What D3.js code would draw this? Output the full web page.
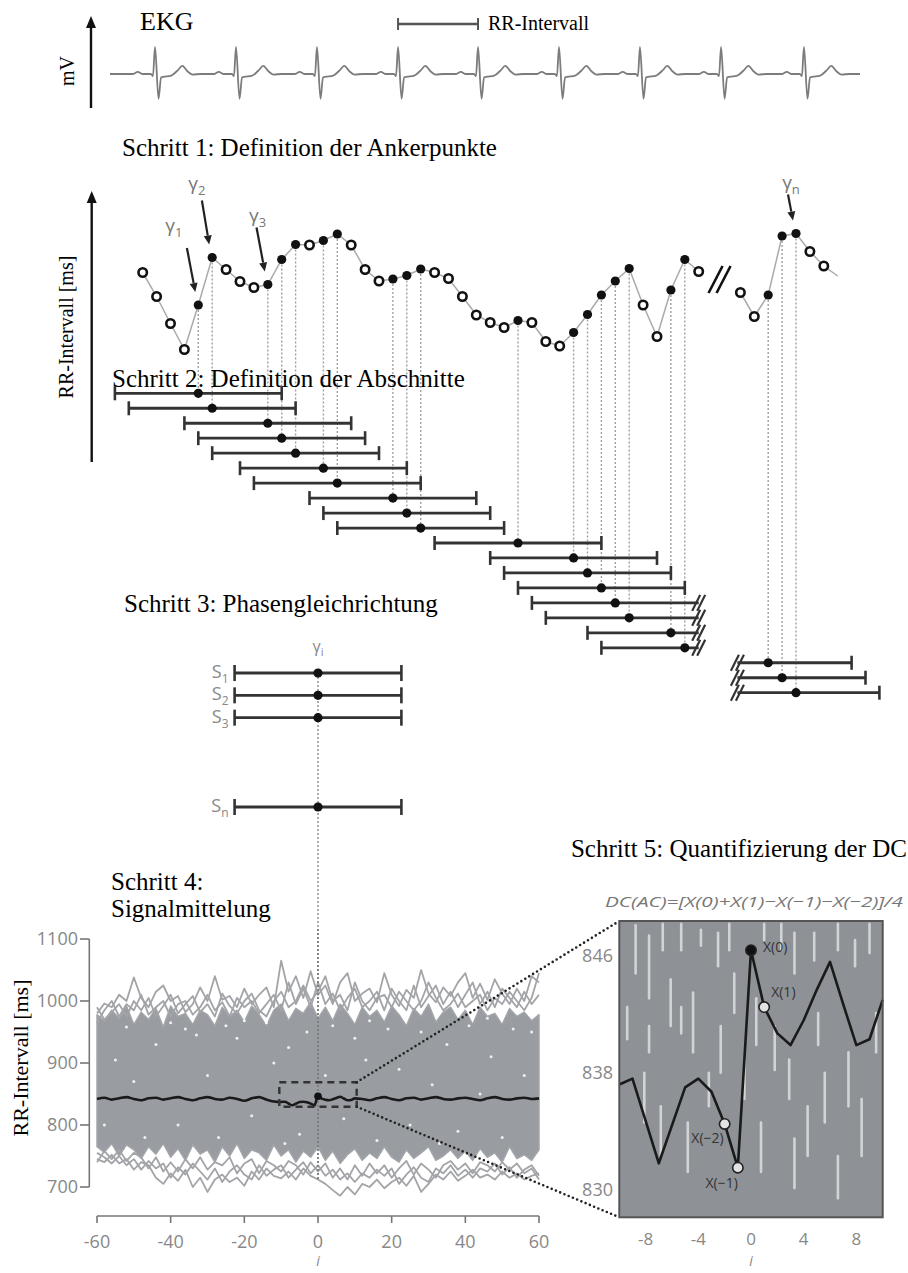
<!DOCTYPE html>
<html>
<head>
<meta charset="utf-8">
<script src="https://cdn.jsdelivr.net/npm/d3@7"></script>
<style>
  body { margin: 0; background: #fff; }
  svg { display: block; }
</style>
</head>
<body>
<svg id="fig" width="908" height="1273"></svg>
<script>
// ---------------- data ----------------

// EKG: R-peak times (s) and one beat template [seconds from R, mV]
const ekgBeatTimes = [0.444, 1.243, 2.042, 2.842, 3.631, 4.430, 5.229, 6.029, 6.847];
const ekgBeatShape = [
  [-0.22, 0], [-0.17, 0.08], [-0.12, 0], [-0.04, 0], [-0.02, -0.08], [0, 1.0],
  [0.035, -0.92], [0.06, -0.12], [0.09, -0.1], [0.16, -0.06], [0.22, 0.12],
  [0.27, 0.3], [0.32, 0.1], [0.37, -0.02], [0.45, 0]
];
const rrBracketBeats = [3, 4];

// Step 1: RR intervals (ms) of consecutive beats, two stretches around a break
const rrGroup1 = [875, 827, 773, 721, 810, 905, 881, 857, 845, 851, 901, 931, 930, 939, 952,
  930, 881, 858, 862, 869, 882, 875, 863, 827, 790, 775, 765, 779, 775, 737, 728, 755, 791,
  830, 858, 883, 810, 747, 840, 901, 877];
const group2Start = 43;
const rrGroup2 = [835, 787, 830, 948, 953, 917, 888];
const rrTail = 868;
const gammaMarks = [
  { beat: 4, sub: "1" }, { beat: 5, sub: "2" }, { beat: 9, sub: "3" }, { beat: 47, sub: "n" }
];
const segmentHalfWidth = 6; // beats on each side of an anchor

// Step 3: aligned segments
const alignedRows = ["1", "2", "3", "", "", "", "n"];

// Step 4: averaging plot
const iTicks = [-60, -40, -20, 0, 20, 40, 60];
const rrTicks = [700, 800, 900, 1000, 1100];
const iStep2 = d3.range(-60, 61, 2);
const bandHi = [978, 968, 985, 972, 992, 962, 982, 970, 988, 958, 992, 975, 980, 962, 985, 978,
  960, 990, 975, 985, 966, 992, 978, 960, 985, 995, 968, 988, 980, 998, 972, 990, 968, 995, 980,
  962, 990, 975, 985, 966, 992, 978, 960, 988, 975, 995, 966, 982, 990, 970, 985, 962, 990, 975,
  980, 962, 988, 975, 982, 968, 978];
const bandLo = [765, 756, 770, 750, 768, 760, 746, 765, 753, 770, 748, 762, 743, 768, 753, 760,
  740, 765, 750, 770, 746, 760, 755, 743, 768, 750, 760, 740, 758, 748, 765, 743, 758, 738, 752,
  762, 743, 755, 746, 765, 748, 740, 760, 746, 755, 765, 743, 750, 760, 746, 758, 743, 762, 748,
  755, 740, 765, 746, 752, 743, 760];
const traceUp1 = [980, 996, 990, 1010, 1000, 1038, 1005, 990, 1015, 1025, 1000, 1008, 982, 995,
  1022, 1000, 1040, 1002, 1008, 990, 1020, 995, 1010, 1022, 990, 1065, 1015, 1040, 1005, 1048,
  1010, 1025, 995, 1030, 1045, 1000, 1012, 1020, 998, 1045, 1010, 992, 1018, 1005, 1050, 1012,
  998, 1022, 1008, 1030, 1045, 1005, 1028, 1002, 1035, 1012, 995, 1020, 1000, 1040, 1030];
const traceUp2 = [965, 985, 1000, 975, 995, 985, 1010, 978, 990, 1000, 975, 995, 1000, 978, 990,
  1010, 985, 998, 975, 1005, 990, 1000, 980, 995, 1010, 985, 1030, 995, 1020, 990, 1030, 995,
  1012, 985, 1005, 1020, 990, 1000, 1015, 985, 1020, 1000, 985, 1025, 990, 1008, 1025, 995, 1015,
  990, 1010, 1030, 995, 1015, 990, 1020, 1005, 990, 1015, 995, 1010];
const traceUp3 = [990, 970, 982, 995, 975, 1000, 985, 1005, 975, 992, 1010, 980, 995, 1008, 982,
  995, 975, 1012, 992, 980, 1000, 1012, 985, 975, 1000, 1015, 990, 1000, 1025, 1000, 1015, 1040,
  1000, 1010, 985, 1030, 1000, 985, 1005, 1010, 990, 1015, 1000, 985, 1000, 1030, 1005, 985, 995,
  1012, 990, 1000, 1010, 985, 1005, 995, 1015, 1000, 985, 1005, 1045];
const traceLo1 = [745, 740, 752, 738, 745, 728, 740, 735, 715, 705, 722, 710, 728, 700, 715, 692,
  712, 720, 708, 715, 702, 725, 712, 730, 718, 714, 725, 712, 730, 718, 712, 705, 695, 686, 700,
  688, 705, 700, 712, 698, 708, 715, 702, 718, 692, 705, 720, 712, 725, 710, 718, 728, 715, 720,
  712, 725, 715, 722, 712, 718, 722];
const traceLo2 = [755, 748, 738, 750, 735, 745, 728, 742, 730, 738, 715, 732, 720, 738, 725, 712,
  730, 708, 725, 735, 720, 712, 735, 718, 728, 735, 715, 728, 740, 722, 735, 718, 728, 712, 722,
  708, 722, 715, 728, 718, 730, 705, 720, 732, 715, 708, 730, 722, 735, 718, 728, 715, 730, 725,
  738, 720, 732, 715, 728, 735, 718];
const traceLo3 = [740, 758, 745, 760, 742, 755, 748, 730, 748, 725, 740, 725, 745, 730, 748, 728,
  740, 735, 748, 722, 738, 745, 722, 742, 735, 725, 742, 735, 720, 740, 725, 738, 715, 730, 712,
  735, 718, 738, 722, 735, 715, 730, 742, 720, 738, 728, 715, 735, 742, 728, 738, 722, 740, 735,
  725, 740, 728, 738, 722, 730, 712];
// gaps between the traces inside the dense band [i, rr]
const bandGaps = [[-55, 905], [-50, 870], [-44, 930], [-38, 800], [-36, 955], [-30, 880],
  [-27, 780], [-22, 940], [-18, 815], [-14, 965], [-12, 900], [-8, 925], [-5, 785], [-3, 950],
  [2, 880], [4, 960], [7, 810], [10, 940], [13, 905], [16, 775], [19, 955], [22, 890], [25, 800],
  [28, 950], [31, 865], [35, 930], [38, 790], [41, 960], [44, 850], [47, 910], [50, 780],
  [53, 955], [56, 880], [-58, 800], [-47, 780], [-25, 960], [-9, 770], [33, 770], [-40, 965],
  [-33, 945], [14, 968], [46, 972], [-52, 958], [58, 950], [-20, 968], [24, 972]];
// averaged signal outside the zoomed window (i = -60..-12 and 12..60, step 2)
const iMeanLeft = d3.range(-60, -11, 2);
const meanLeft = [842, 844, 841, 843, 845, 842, 840, 843, 844, 841, 843, 845, 842, 840, 843, 845,
  842, 841, 844, 842, 839, 843, 845, 841, 838];
const iMeanRight = d3.range(12, 61, 2);
const meanRight = [842, 840, 843, 845, 842, 840, 843, 844, 841, 843, 845, 842, 841, 843, 844, 842,
  840, 843, 845, 842, 841, 843, 844, 842, 843];
const zoomWindow = { i: [-10.5, 10.5], rr: [829.5, 869] };

// Step 5: averaged signal around the anchor (i = -10..10)
const iZoom = d3.range(-10, 11);
const meanZoom = [837.2, 837.6, 834.7, 831.8, 834.4, 837.0, 837.6, 836.7, 834.5, 831.5, 846.4,
  842.5, 840.7, 839.9, 841.6, 843.7, 845.6, 842.7, 839.9, 840.3, 843.0];
const zoomTicksI = [-8, -4, 0, 4, 8];
const zoomTicksRR = [830, 838, 846];
const dcPoints = [
  { i: 0, label: "X(0)" }, { i: 1, label: "X(1)" }, { i: -1, label: "X(−1)" }, { i: -2, label: "X(−2)" }
];
// traces crossing the zoomed window [i, rrTop, rrBottom]
const zoomStreaks = [[-8.76, 848.1, 844.8], [-7.74, 847.4, 843.1], [-7.74, 841.2, 839.4],
  [-6.7, 848.2, 846.4], [-6.1, 844.4, 841.2], [-5.3, 848.2, 846.4], [-5.3, 842.5, 840.7],
  [-4.4, 843.5, 839.4], [-3.8, 847.8, 846.7], [-3.2, 838.0, 835.7], [-2.5, 847.6, 845.3],
  [-2.3, 841.2, 838.0], [-1.65, 848.2, 846.4], [-1.27, 844.8, 842.1], [1.0, 848.2, 847.1],
  [1.8, 841.2, 838.2], [2.3, 848.2, 846.4], [2.9, 838.9, 836.2], [3.3, 847.6, 844.8],
  [4.3, 835.7, 832.3], [4.8, 847.6, 845.7], [5.6, 838.0, 834.6], [6.6, 848.2, 846.4],
  [7.4, 839.4, 835.7], [7.9, 847.1, 845.3], [8.4, 836.2, 832.3], [9.0, 848.2, 846.2],
  [9.5, 842.1, 839.4], [-6.85, 835.7, 832.3], [-4.8, 834.6, 831.2], [0.76, 834.6, 831.2],
  [3.3, 833.5, 830.1], [-8.1, 838.0, 834.6], [6.6, 832.3, 829.4], [-9.4, 842.5, 840.3],
  [0.4, 843.1, 839.9], [5.1, 842.1, 839.9], [-0.5, 838.9, 836.2]];

// ---------------- drawing ----------------
const svg = d3.select("#fig");
const serif = "'Liberation Serif','Times New Roman',serif";
const sans = "'Open Sans','Noto Sans',sans-serif";

function arrowUp(g, x, yBottom, yTip) {
  g.append("line").attr("x1", x).attr("x2", x).attr("y1", yBottom).attr("y2", yTip + 8)
    .attr("stroke", "#111").attr("stroke-width", 2.4);
  g.append("path").attr("d", `M${x},${yTip} L${x - 5},${yTip + 12} L${x + 5},${yTip + 12} Z`)
    .attr("fill", "#111");
}
function breakMark(g, x, y) {
  [-2.5, 2.5].forEach(o => g.append("line")
    .attr("x1", x + o - 4).attr("y1", y + 8).attr("x2", x + o + 4).attr("y2", y - 8)
    .attr("stroke", "#333").attr("stroke-width", 2.2));
}

// ----- EKG -----
const ekg = svg.append("g");
const ekgT = d3.scaleLinear().domain([0, 7.4]).range([110, 860]);
const ekgV = d3.scaleLinear().domain([-1, 1]).range([101, 47]);
const ekgPts = [[0, 0]];
ekgBeatTimes.forEach(t0 => ekgBeatShape.forEach(([dt, v]) => ekgPts.push([t0 + dt, v])));
ekgPts.push([7.4, 0]);
ekg.append("path")
  .attr("d", d3.line().x(d => ekgT(d[0])).y(d => ekgV(d[1])).curve(d3.curveMonotoneX)(ekgPts))
  .attr("fill", "none").attr("stroke", "#7c7c7c").attr("stroke-width", 1.8);
arrowUp(ekg, 91, 108, 16);
ekg.append("text").attr("transform", "translate(74,71) rotate(-90)").attr("text-anchor", "middle")
  .attr("font-family", serif).attr("font-size", 20).text("mV");
ekg.append("text").attr("x", 140).attr("y", 30).attr("font-family", serif).attr("font-size", 26).text("EKG");
{
  const xa = ekgT(ekgBeatTimes[rrBracketBeats[0]]), xb = ekgT(ekgBeatTimes[rrBracketBeats[1]]);
  const yb = 24;
  ekg.append("line").attr("x1", xa).attr("x2", xb).attr("y1", yb).attr("y2", yb)
    .attr("stroke", "#555").attr("stroke-width", 2.5);
  [xa, xb].forEach(x => ekg.append("line").attr("x1", x).attr("x2", x).attr("y1", yb - 6).attr("y2", yb + 6)
    .attr("stroke", "#555").attr("stroke-width", 2));
  ekg.append("text").attr("x", xb + 10).attr("y", 30).attr("font-family", serif).attr("font-size", 20).text("RR-Intervall");
}

// ----- Step 1 -----
const s1 = svg.append("g");
const beatX = d3.scaleLinear().domain([0, 49]).range([142.7, 823.8]);
const rrY = d3.scaleLinear().domain([700, 1000]).range([360, 210]);
const g1 = rrGroup1.map((v, j) => ({ beat: j, rr: v }));
const g2 = rrGroup2.map((v, j) => ({ beat: group2Start + j, rr: v }));
[g1, g2].forEach(arr => arr.forEach((d, j) => { d.anchor = j > 0 && d.rr > arr[j - 1].rr; }));
const anchors = g1.concat(g2).filter(d => d.anchor);
const lastBeat1 = g1[g1.length - 1].beat;

svg.append("text").attr("x", 122).attr("y", 156).attr("font-family", serif).attr("font-size", 25)
  .text("Schritt 1: Definition der Ankerpunkte");
arrowUp(s1, 91.7, 462, 191);
s1.append("text").attr("transform", "translate(73,327) rotate(-90)").attr("text-anchor", "middle")
  .attr("font-family", serif).attr("font-size", 20).text("RR-Intervall [ms]");

const rowY = d3.scaleLinear().domain([0, 20]).range([393.3, 692.7]);

// dotted drop lines from each anchor to its segment
const drops = svg.append("g");
anchors.forEach((d, r) => {
  drops.append("line").attr("x1", beatX(d.beat)).attr("x2", beatX(d.beat))
    .attr("y1", rrY(d.rr) + 5).attr("y2", rowY(r))
    .attr("stroke", "#a0a0a0").attr("stroke-width", 1.4).attr("stroke-dasharray", "2,2");
});

const rrLine = d3.line().x(d => beatX(d.beat)).y(d => rrY(d.rr));
s1.append("path").attr("d", rrLine(g1)).attr("fill", "none").attr("stroke", "#aaa").attr("stroke-width", 1.5);
s1.append("path").attr("d", rrLine(g2.concat([{ beat: group2Start + rrGroup2.length, rr: rrTail }])))
  .attr("fill", "none").attr("stroke", "#aaa").attr("stroke-width", 1.5);
// break between the two stretches
{
  const bx = beatX((lastBeat1 + group2Start) / 2), by = rrY(860);
  [-4, 4].forEach(o => s1.append("line").attr("x1", bx + o - 7).attr("y1", by + 13)
    .attr("x2", bx + o + 7).attr("y2", by - 14).attr("stroke", "#111").attr("stroke-width", 2.6));
}
s1.selectAll("circle.pt").data(g1.concat(g2)).join("circle")
  .attr("cx", d => beatX(d.beat)).attr("cy", d => rrY(d.rr))
  .attr("r", d => d.anchor ? 4.6 : 4.2)
  .attr("fill", d => d.anchor ? "#111" : "#fff")
  .attr("stroke", "#111").attr("stroke-width", d => d.anchor ? 0 : 2.6);

// gamma labels and arrows
const gammaLayout = {
  "1": { dx: -8.4, dy: -44, lx: -13, ly: -16 },
  "2": { dx: -7.3, dy: -44, lx: -5, ly: -11 },
  "3": { dx: -8.3, dy: -44, lx: 1, ly: -6 },
  "n": { dx: -5, dy: -26, lx: 3, ly: -6 }
};
gammaMarks.forEach(m => {
  const p = g1.concat(g2).find(d => d.beat === m.beat);
  const L = gammaLayout[m.sub];
  const tx = beatX(p.beat) - 3, ty = rrY(p.rr) - 13;
  const sx = tx + L.dx, sy = ty + L.dy;
  const ang = Math.atan2(ty - sy, tx - sx);
  const hx = tx - 9 * Math.cos(ang), hy = ty - 9 * Math.sin(ang);
  s1.append("line").attr("x1", sx).attr("y1", sy).attr("x2", hx).attr("y2", hy)
    .attr("stroke", "#222").attr("stroke-width", 2.2);
  const px = -Math.sin(ang) * 4, py = Math.cos(ang) * 4;
  s1.append("path").attr("d", `M${tx},${ty} L${hx + px},${hy + py} L${hx - px},${hy - py} Z`).attr("fill", "#222");
  const t = s1.append("text").attr("x", sx + L.lx).attr("y", sy + L.ly).attr("text-anchor", "middle")
    .attr("font-family", sans).attr("font-size", 19).attr("fill", "#777").text("γ");
  t.append("tspan").attr("font-size", 13).attr("dy", 5).text(m.sub);
});

// ----- Step 2 -----
const s2 = svg.append("g");
svg.append("text").attr("x", 112).attr("y", 387).attr("font-family", serif).attr("font-size", 25)
  .text("Schritt 2: Definition der Abschnitte");
anchors.forEach((d, r) => {
  const y = rowY(r);
  let b0 = d.beat - segmentHalfWidth, b1 = d.beat + segmentHalfWidth;
  let x0 = beatX(b0), x1 = beatX(b1), brokeL = false, brokeR = false;
  if (d.beat <= lastBeat1 && b1 >= lastBeat1) { x1 = beatX(lastBeat1); brokeR = true; }
  if (d.beat >= group2Start && b0 < group2Start) { x0 = beatX(group2Start) - 3; brokeL = true; }
  s2.append("line").attr("x1", x0).attr("x2", x1).attr("y1", y).attr("y2", y)
    .attr("stroke", "#333").attr("stroke-width", 2.8);
  [[x0, brokeL], [x1, brokeR]].forEach(([x, br]) => {
    if (br) breakMark(s2, x, y);
    else s2.append("line").attr("x1", x).attr("x2", x).attr("y1", y - 7).attr("y2", y + 7)
      .attr("stroke", "#333").attr("stroke-width", 2.6);
  });
  s2.append("circle").attr("cx", beatX(d.beat)).attr("cy", y).attr("r", 4.6).attr("fill", "#111");
});

// ----- Step 4 axes/scales (shared centre with step 3) -----
const xI = d3.scaleLinear().domain([-60, 60]).range([97, 539]);
const yR = d3.scaleLinear().domain([700, 1100]).range([1187, 939]);
const cx0 = xI(0);
const halfPx = beatX(segmentHalfWidth) - beatX(0);

// ----- Step 3 -----
const s3 = svg.append("g");
svg.append("text").attr("x", 124).attr("y", 612).attr("font-family", serif).attr("font-size", 25)
  .text("Schritt 3: Phasengleichrichtung");
const alignY = d3.scalePoint().domain(d3.range(alignedRows.length)).range([673, 807]);
s3.append("line").attr("x1", cx0).attr("x2", cx0).attr("y1", alignY(0)).attr("y2", yR(712))
  .attr("stroke", "#888").attr("stroke-width", 1.4).attr("stroke-dasharray", "2,2");
const t3 = s3.append("text").attr("x", cx0).attr("y", 652).attr("text-anchor", "middle")
  .attr("font-family", sans).attr("font-size", 16).attr("fill", "#888").text("γ");
t3.append("tspan").attr("font-size", 11).attr("dy", 4).text("i");
alignedRows.forEach((lab, k) => {
  if (!lab) return;
  const y = alignY(k);
  s3.append("line").attr("x1", cx0 - halfPx).attr("x2", cx0 + halfPx).attr("y1", y).attr("y2", y)
    .attr("stroke", "#333").attr("stroke-width", 2.8);
  [cx0 - halfPx, cx0 + halfPx].forEach(x => s3.append("line").attr("x1", x).attr("x2", x)
    .attr("y1", y - 8).attr("y2", y + 8).attr("stroke", "#333").attr("stroke-width", 2.6));
  s3.append("circle").attr("cx", cx0).attr("cy", y).attr("r", 4.6).attr("fill", "#111");
  const t = s3.append("text").attr("x", cx0 - halfPx - 6).attr("y", y + 5).attr("text-anchor", "end")
    .attr("font-family", sans).attr("font-size", 18).attr("fill", "#888").text("S");
  t.append("tspan").attr("font-size", 12).attr("dy", 5).text(lab);
});

// ----- Step 4 -----
const s4 = svg.append("g");
svg.append("text").attr("x", 111).attr("y", 890).attr("font-family", serif).attr("font-size", 25).text("Schritt 4:");
svg.append("text").attr("x", 111).attr("y", 917).attr("font-family", serif).attr("font-size", 25).text("Signalmittelung");

const band = iStep2.map((i, k) => ({ i, hi: bandHi[k], lo: bandLo[k] }));
s4.append("path").attr("d", d3.area().x(d => xI(d.i)).y0(d => yR(d.lo)).y1(d => yR(d.hi))(band))
  .attr("fill", "#999ca1").attr("stroke", "#a2a5a9").attr("stroke-width", 1.5).attr("stroke-linejoin", "round");
const traceLine = d3.line().x((v, k) => xI(iStep2[k])).y(v => yR(v));
[traceUp1, traceUp2, traceUp3, traceLo1, traceLo2, traceLo3].forEach(tr =>
  s4.append("path").attr("d", traceLine(tr)).attr("fill", "none")
    .attr("stroke", "#a2a4a8").attr("stroke-width", 1.8).attr("stroke-linejoin", "round"));
s4.selectAll("circle.gap").data(bandGaps).join("circle")
  .attr("cx", d => xI(d[0])).attr("cy", d => yR(d[1])).attr("r", 1.5).attr("fill", "#fff").attr("opacity", 0.85);

// redraw the centre line over the band
s4.append("line").attr("x1", cx0).attr("x2", cx0).attr("y1", yR(1100) - 10).attr("y2", yR(712))
  .attr("stroke", "#6f6f6f").attr("stroke-width", 1.3).attr("stroke-dasharray", "2,2");

const meanPts = iMeanLeft.map((i, k) => [i, meanLeft[k]])
  .concat(iZoom.map((i, k) => [i, meanZoom[k]]))
  .concat(iMeanRight.map((i, k) => [i, meanRight[k]]));
s4.append("path").attr("d", d3.line().x(d => xI(d[0])).y(d => yR(d[1])).curve(d3.curveMonotoneX)(meanPts))
  .attr("fill", "none").attr("stroke", "#1a1a1a").attr("stroke-width", 2.6);
s4.append("circle").attr("cx", xI(0)).attr("cy", yR(meanZoom[iZoom.indexOf(0)])).attr("r", 3.8).attr("fill", "#111");

// zoom window
const wx0 = xI(zoomWindow.i[0]), wx1 = xI(zoomWindow.i[1]);
const wy0 = yR(zoomWindow.rr[1]), wy1 = yR(zoomWindow.rr[0]);
s4.append("rect").attr("x", wx0).attr("y", wy0).attr("width", wx1 - wx0).attr("height", wy1 - wy0)
  .attr("fill", "none").attr("stroke", "#333").attr("stroke-width", 2.4).attr("stroke-dasharray", "7,5");

// axes
s4.append("line").attr("x1", 89.3).attr("x2", 89.3).attr("y1", yR(1100)).attr("y2", yR(700))
  .attr("stroke", "#777").attr("stroke-width", 1.6);
rrTicks.forEach(v => {
  s4.append("line").attr("x1", 80).attr("x2", 89.3).attr("y1", yR(v)).attr("y2", yR(v))
    .attr("stroke", "#777").attr("stroke-width", 1.6);
  s4.append("text").attr("x", 78).attr("y", yR(v) + 6).attr("text-anchor", "end")
    .attr("font-family", sans).attr("font-size", 18).attr("fill", "#888").text(v);
});
const axY = 1216;
s4.append("line").attr("x1", xI(-60)).attr("x2", xI(60)).attr("y1", axY).attr("y2", axY)
  .attr("stroke", "#777").attr("stroke-width", 1.6);
iTicks.forEach(v => {
  s4.append("line").attr("x1", xI(v)).attr("x2", xI(v)).attr("y1", axY).attr("y2", axY + 7)
    .attr("stroke", "#777").attr("stroke-width", 1.6);
  s4.append("text").attr("x", xI(v)).attr("y", 1248).attr("text-anchor", "middle")
    .attr("font-family", sans).attr("font-size", 18).attr("fill", "#888").text(v);
});
s4.append("text").attr("x", xI(0)).attr("y", 1266).attr("text-anchor", "middle").attr("font-style", "italic")
  .attr("font-family", sans).attr("font-size", 14).attr("fill", "#888").text("i");
s4.append("text").attr("transform", "translate(28,1058) rotate(-90)").attr("text-anchor", "middle")
  .attr("font-family", serif).attr("font-size", 22).text("RR-Intervall [ms]");

// ----- Step 5 -----
const s5 = svg.append("g");
const zx = d3.scaleLinear().domain([-10, 10]).range([619.3, 882.7]);
const zy = d3.scaleLinear().domain([828.1, 848.4]).range([1217.3, 921]);

// connectors from the zoom window to the enlarged panel
[[wx1, wy0, zx(-10), zy(848.4)], [wx1, wy1, zx(-10), zy(828.1)]].forEach(([a, b, c, d]) =>
  s5.append("line").attr("x1", a).attr("y1", b).attr("x2", c).attr("y2", d)
    .attr("stroke", "#222").attr("stroke-width", 2.6).attr("stroke-linecap", "round")
    .attr("stroke-dasharray", "0,4.6"));

svg.append("text").attr("x", 907).attr("y", 857).attr("text-anchor", "end")
  .attr("font-family", serif).attr("font-size", 25).text("Schritt 5: Quantifizierung der DC");
s5.append("text").attr("x", 605).attr("y", 907).attr("font-family", sans).attr("font-style", "italic")
  .attr("font-size", 15).attr("fill", "#777").attr("textLength", 298).attr("lengthAdjust", "spacingAndGlyphs")
  .text("DC(AC)=[X(0)+X(1)−X(−1)−X(−2)]/4");

s5.append("rect").attr("x", zx(-10)).attr("y", zy(848.4)).attr("width", zx(10) - zx(-10))
  .attr("height", zy(828.1) - zy(848.4)).attr("fill", "#8e9297");
s5.selectAll("line.streak").data(zoomStreaks).join("line")
  .attr("x1", d => zx(d[0])).attr("x2", d => zx(d[0]))
  .attr("y1", d => zy(d[1])).attr("y2", d => zy(d[2]))
  .attr("stroke", "#fff").attr("stroke-width", 2.6).attr("opacity", 0.6).attr("stroke-linecap", "round");
const zPts = iZoom.map((i, k) => [i, meanZoom[k]]);
s5.append("path").attr("d", d3.line().x(d => zx(d[0])).y(d => zy(d[1]))(zPts))
  .attr("fill", "none").attr("stroke", "#1a1a1a").attr("stroke-width", 2.6).attr("stroke-linejoin", "round");
s5.append("rect").attr("x", zx(-10)).attr("y", zy(848.4)).attr("width", zx(10) - zx(-10))
  .attr("height", zy(828.1) - zy(848.4)).attr("fill", "none").attr("stroke", "#555").attr("stroke-width", 2);

const labelPlace = {
  "X(0)": { dx: 12, dy: 2, anchor: "start" },
  "X(1)": { dx: 7, dy: -10, anchor: "start" },
  "X(−1)": { dx: 0, dy: 20, anchor: "end" },
  "X(−2)": { dx: -1, dy: 19, anchor: "end" }
};
dcPoints.forEach(p => {
  const v = meanZoom[iZoom.indexOf(p.i)];
  const px = zx(p.i), py = zy(v);
  s5.append("circle").attr("cx", px).attr("cy", py).attr("r", 5.2)
    .attr("fill", p.i === 0 ? "#111" : "#e2e2e2").attr("stroke", "#222").attr("stroke-width", 1.6);
  const L = labelPlace[p.label];
  s5.append("text").attr("x", px + L.dx).attr("y", py + L.dy).attr("text-anchor", L.anchor)
    .attr("font-family", sans).attr("font-size", 14).attr("fill", "#333").text(p.label);
});
zoomTicksRR.forEach(v => s5.append("text").attr("x", 613).attr("y", zy(v) + 6).attr("text-anchor", "end")
  .attr("font-family", sans).attr("font-size", 18).attr("fill", "#888").text(v));
zoomTicksI.forEach(v => s5.append("text").attr("x", zx(v)).attr("y", 1245).attr("text-anchor", "middle")
  .attr("font-family", sans).attr("font-size", 17).attr("fill", "#888").text(v));
s5.append("text").attr("x", zx(0)).attr("y", 1266).attr("text-anchor", "middle").attr("font-style", "italic")
  .attr("font-family", sans).attr("font-size", 14).attr("fill", "#888").text("i");
</script>
</body>
</html>
